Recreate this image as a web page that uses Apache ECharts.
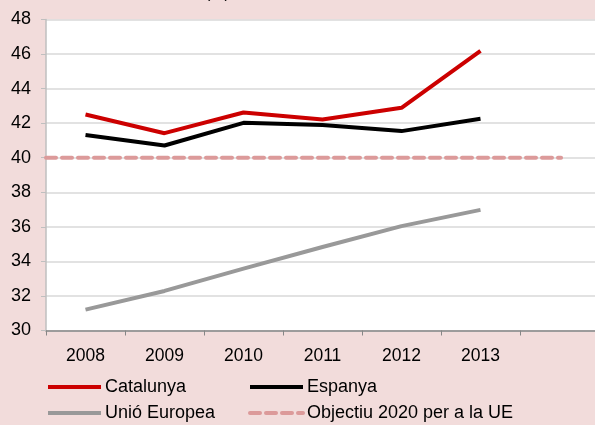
<!DOCTYPE html>
<html>
<head>
<meta charset="utf-8">
<script src="https://cdn.jsdelivr.net/npm/echarts@6/dist/echarts.min.js"></script>
<style>html,body{margin:0;padding:0;background:#f2dcdb;overflow:hidden;}#c{width:600px;height:425px;}</style>
</head>
<body>
<div id="c"></div>
<script>
var categories = ['2008','2009','2010','2011','2012','2013',''];
var catalunya = [42.5, 41.42, 42.62, 42.21, 42.89, 46.19];
var espanya = [41.31, 40.71, 42.02, 41.9, 41.54, 42.25];
var unioEuropea = [31.21, 32.29, 33.58, 34.83, 36.04, 36.98];
var objectiuX = [0, 6.52];
var objectiuY = [40, 40];
var yTicks = {min: 30, max: 48, interval: 2};

var FONT = 'Liberation Sans, Arial, sans-serif';
var chart = echarts.init(document.getElementById('c'), null, {renderer: 'canvas'});
function lg(name, left, top) {
  return {
    data: [name], left: left, top: top, orient: 'horizontal',
    itemWidth: 53, itemHeight: 14, padding: 0, itemGap: 0,
    itemStyle: {opacity: 0},
    lineStyle: {width: 4},
    textStyle: {fontFamily: FONT, fontSize: 18, color: '#000', padding: [0,0,0,-1]},
    selectedMode: false
  };
}
chart.setOption({
  backgroundColor: '#f2dcdb',
  animation: false,
  graphic: [{type: 'text', left: 205, top: -14, style: {text: '(%)', font: '16px ' + FONT, fill: '#000'}}],
  grid: {left: 46, width: 553, top: 19.5, bottom: 94.5, backgroundColor: '#ffffff', show: true, borderWidth: 0},
  legend: [lg('Catalunya', 46, 378), lg('Espanya', 248, 378), lg('Unió Europea', 46, 404), lg('Objectiu 2020 per a la UE', 248, 404)],
  xAxis: [{
    type: 'category', data: categories, boundaryGap: true,
    axisLine: {lineStyle: {color: '#868686', width: 1.5}},
    axisTick: {show: true, length: 5, inside: false, lineStyle: {color: '#868686', width: 1}},
    axisLabel: {fontFamily: FONT, fontSize: 17.5, color: '#000', margin: 17},
    splitLine: {show: false}
  }, {
    type: 'value', min: 0, max: 7, show: false
  }],
  yAxis: {
    type: 'value', min: yTicks.min, max: yTicks.max, interval: yTicks.interval,
    axisLine: {show: true, lineStyle: {color: '#bfbfbf', width: 1.5}},
    axisTick: {show: true, length: 5, lineStyle: {color: '#bfbfbf'}},
    axisLabel: {fontFamily: FONT, fontSize: 18, color: '#000', margin: 15},
    splitLine: {lineStyle: {color: '#d9d9d9', width: 1.5}}
  },
  series: [
    {name: 'Catalunya', type: 'line', data: catalunya, symbol: 'none', lineStyle: {color: '#cc0000', width: 4}, itemStyle: {color: '#cc0000'}, z: 4},
    {name: 'Espanya', type: 'line', data: espanya, symbol: 'none', lineStyle: {color: '#000000', width: 4}, itemStyle: {color: '#000000'}, z: 3},
    {name: 'Unió Europea', type: 'line', data: unioEuropea, symbol: 'none', lineStyle: {color: '#999999', width: 4}, itemStyle: {color: '#999999'}, z: 3},
    {name: 'Objectiu 2020 per a la UE', type: 'line', xAxisIndex: 1,
     data: objectiuX.map(function (x, i) { return [x, objectiuY[i]]; }),
     symbol: 'none', lineStyle: {color: '#dc9a9a', width: 4, type: [10, 6], cap: 'round'}, itemStyle: {color: '#dc9a9a'}, z: 2}
  ]
});
</script>
</body>
</html>
